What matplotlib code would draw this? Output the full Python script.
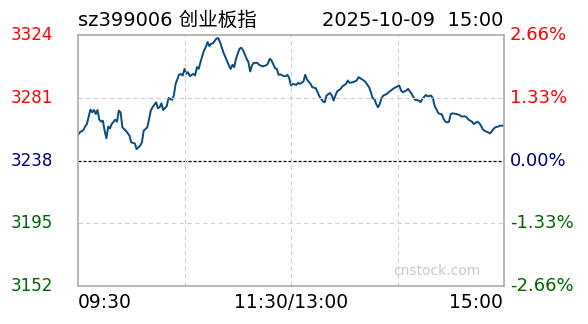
import matplotlib
matplotlib.use("Agg")
import matplotlib.pyplot as plt

# minutes since 09:30 (lunch break removed) and index level
minutes = [0, 1, 3, 4, 5, 7, 8, 9, 10, 11, 12, 13, 14, 15, 16, 17, 18, 19, 21, 22,
           23, 24, 25, 27, 29, 30, 32, 33, 35, 36, 37, 39, 40, 41, 42, 44, 45, 46, 47, 48,
           50, 51, 53, 54, 55, 57, 58, 59, 60, 61, 62, 63, 65, 66, 67, 68, 69, 71, 72, 73,
           74, 75, 76, 78, 79, 80, 82, 83, 85, 86, 87, 88, 89, 91, 92, 93, 95, 96, 97, 98,
           99, 101, 102, 104, 106, 107, 108, 109, 111, 112, 113, 114, 116, 117, 118, 119, 120, 121, 123, 124,
           125, 127, 128, 129, 131, 132, 134, 135, 136, 138, 139, 140, 142, 143, 144, 145, 146, 148, 149, 151,
           152, 153, 155, 157, 158, 159, 161, 162, 164, 165, 166, 167, 168, 169, 170, 171, 172, 174, 175, 177,
           178, 179, 181, 182, 183, 185, 186, 188, 189, 190, 192, 193, 194, 196, 197, 199, 200, 201, 203, 204,
           205, 206, 207, 208, 209, 210, 211, 213, 215, 216, 218, 219, 220, 222, 223, 225, 226, 227, 228, 229,
           231, 232, 233, 234, 235, 237, 238, 240]
prices = [3255.4, 3257.3, 3258.8, 3261.2, 3263.0, 3272.9, 3271.0, 3272.6, 3269.9, 3272.6,
          3266.0, 3264.6, 3265.3, 3258.4, 3253.3, 3261.2, 3260.0, 3263.0, 3266.0, 3264.6,
          3272.2, 3271.0, 3260.7, 3258.4, 3255.0, 3250.4, 3249.7, 3245.8, 3248.1, 3250.4,
          3258.4, 3260.7, 3266.0, 3272.2, 3274.5, 3277.9, 3273.8, 3274.5, 3277.2, 3272.6,
          3275.2, 3280.9, 3279.5, 3282.5, 3290.5, 3297.0, 3297.2, 3296.3, 3300.8, 3297.4,
          3298.5, 3295.8, 3297.4, 3296.3, 3302.0, 3300.8, 3305.4, 3313.5, 3315.7, 3319.2,
          3316.4, 3318.0, 3318.3, 3321.5, 3321.9, 3319.2, 3311.8, 3308.9, 3303.2, 3300.8,
          3303.6, 3302.0, 3307.7, 3314.6, 3315.3, 3313.5, 3307.7, 3305.4, 3299.0, 3303.2,
          3304.9, 3304.9, 3303.6, 3302.5, 3303.2, 3304.3, 3307.7, 3306.6, 3301.3, 3300.8,
          3296.7, 3297.0, 3295.8, 3295.8, 3296.7, 3294.4, 3289.4, 3290.5, 3289.8, 3291.2,
          3290.5, 3292.1, 3296.7, 3293.5, 3290.5, 3288.2, 3287.5, 3284.8, 3282.0, 3278.4,
          3278.0, 3282.5, 3284.3, 3282.5, 3279.1, 3282.5, 3285.3, 3287.1, 3288.9, 3290.5,
          3292.8, 3291.2, 3291.7, 3292.8, 3295.1, 3294.4, 3292.8, 3291.7, 3288.2, 3284.8,
          3280.7, 3280.2, 3276.7, 3274.5, 3276.7, 3280.7, 3282.5, 3283.6, 3284.8, 3286.6,
          3287.5, 3288.2, 3289.4, 3286.0, 3284.8, 3286.0, 3287.1, 3283.6, 3281.3, 3279.5,
          3279.1, 3278.0, 3280.2, 3282.9, 3282.0, 3282.5, 3280.2, 3275.2, 3270.5, 3269.9,
          3269.6, 3266.4, 3264.6, 3264.1, 3264.6, 3269.9, 3270.3, 3269.9, 3269.2, 3268.1,
          3268.3, 3267.6, 3266.0, 3264.6, 3263.0, 3264.6, 3263.7, 3261.9, 3259.5, 3258.4,
          3257.3, 3256.6, 3257.7, 3259.5, 3260.7, 3261.4, 3261.9, 3261.9]

prev_close = 3238
price_ticks = [3152, 3195, 3238, 3281, 3324]
pct_labels = ["-2.66%", "-1.33%", "0.00%", "1.33%", "2.66%"]
tick_colors = ["#006400", "#006400", "#000080", "#ff0000", "#ff0000"]
time_labels = ["09:30", "11:30/13:00", "15:00"]

plt.rcParams['font.family'] = ['DejaVu Sans', 'Noto Sans CJK SC']

fig = plt.figure(figsize=(5.88, 3.24), dpi=100)
ax = fig.add_axes([78 / 588, 38 / 324, 426 / 588, 251 / 324])

ax.plot(minutes, prices, color="#0b4a7c", lw=1.4)
ax.axhline(prev_close, color="black", lw=0.9, ls=(0, (2.5, 1.5)))
for m in [60, 120, 180]:
    ax.axvline(m, color="#d0d0d0", lw=0.8, ls=(0, (4, 3)))
for p in [3195, 3281]:
    ax.axhline(p, color="#d0d0d0", lw=0.8, ls=(0, (4, 3)))

ax.set_xlim(0, 240)
ax.set_ylim(price_ticks[0], price_ticks[-1])
ax.set_xticks([])
ax.set_yticks([])
for s in ax.spines.values():
    s.set_color("#aaaaaa")
    s.set_linewidth(1.2)

ytr = ax.get_yaxis_transform()
for p, pl_, c in zip(price_ticks, pct_labels, tick_colors):
    ax.text(-67 / 426, p, str(p), transform=ytr, ha="left", va="center",
            color=c, fontsize=12, clip_on=False)
    ax.text(1 + 6 / 426, p, pl_, transform=ytr, ha="left", va="center",
            color=c, fontsize=13, clip_on=False)

fig.text(78 / 588, 1 - 20 / 324, "sz399006 创业板指", ha="left", va="center", fontsize=14)
fig.text(503 / 588, 1 - 20 / 324, "2025-10-09  15:00", ha="right", va="center", fontsize=14)

fig.text(78 / 588, 1 - 303 / 324, time_labels[0], ha="left", va="center", fontsize=13.5)
fig.text(291 / 588, 1 - 303 / 324, time_labels[1], ha="center", va="center", fontsize=13.5)
fig.text(503 / 588, 1 - 303 / 324, time_labels[2], ha="right", va="center", fontsize=13.5)

fig.text(437 / 588, 1 - 271 / 324, "cnstock.com", ha="center", va="center",
         fontsize=10, color="#c8c8c8")

fig.savefig("out.png", dpi=100)
